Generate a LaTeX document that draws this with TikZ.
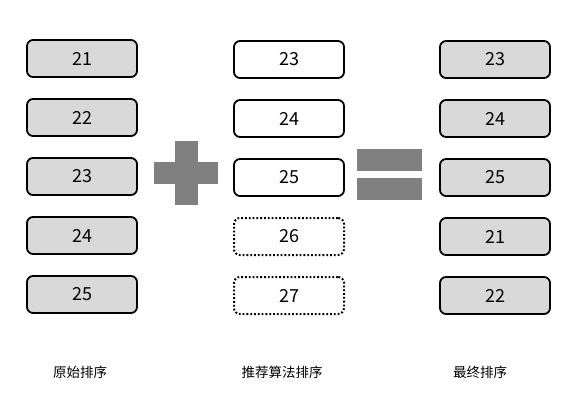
\documentclass[tikz,border=0pt]{standalone}
\usepackage{fontspec}
\setmainfont{Noto Sans CJK SC}

\begin{document}
\begin{tikzpicture}[x=1pt,y=-1pt,
    rank/.style={draw=black,line width=1.8pt,rounded corners=6pt,
        minimum width=110pt,minimum height=37pt,inner sep=0pt,font=\fontsize{18}{18}\selectfont},
    old/.style={rank,fill=black!15},
    new/.style={rank,fill=white},
    extra/.style={rank,fill=white,dotted,line width=2pt},
    caption/.style={font=\fontsize{13.5}{13.5}\selectfont}]
    \useasboundingbox (0,0) rectangle (588,402);
    % original ranking
    \foreach \v [count=\i] in {21,22,23,24,25}
        \node[old] (o\i) at (82,{58.5+59*(\i-1)}) {\v};
    % recommendation ranking
    \foreach \v [count=\i] in {23,24,25}
        \node[new] (r\i) at (289,{59.5+59*(\i-1)}) {\v};
    \node[extra] (r4) at (289,236.5) {26};
    \node[extra] (r5) at (289,295.5) {27};
    % final ranking
    \foreach \v [count=\i] in {23,24,25,21,22}
        \node[old] (f\i) at (495,{59.5+59*(\i-1)}) {\v};
    % plus and equals
    \fill[black!50] (175,141) rectangle (198,205);
    \fill[black!50] (154,162) rectangle (218,184);
    \fill[black!50] (357,149) rectangle (422,171);
    \fill[black!50] (357,178) rectangle (422,200);
    % captions
    \node[caption] (co) at (80,372) {原始排序};
    \node[caption] (cr) at (282,372) {推荐算法排序};
    \node[caption] (cf) at (480,372) {最终排序};
\end{tikzpicture}
\end{document}
